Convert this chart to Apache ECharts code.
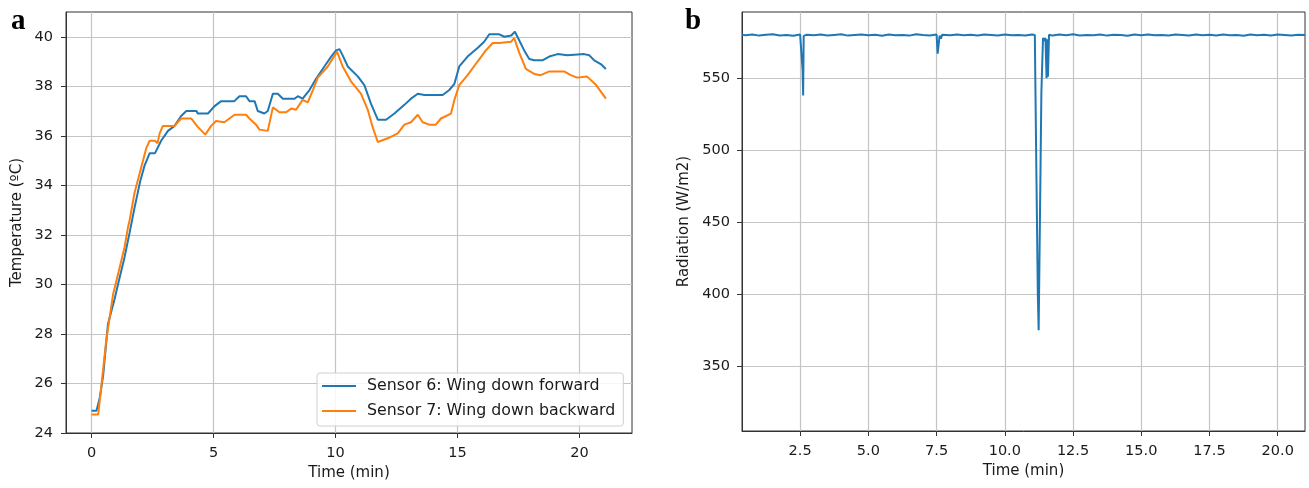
<!DOCTYPE html>
<html><head><meta charset="utf-8">
<script src="https://cdn.jsdelivr.net/npm/echarts@6/dist/echarts.min.js"></script>
<style>html,body{margin:0;padding:0;background:#fff}#c{width:1309px;height:488px}</style>
</head><body><div id="c"></div>
<script>
// ---- Panel a: temperature ----
const tempXTicks = [0, 5, 10, 15, 20];
const tempYTicks = [24, 26, 28, 30, 32, 34, 36, 38, 40];
const s6Name = 'Sensor 6: Wing down forward';
const s7Name = 'Sensor 7: Wing down backward';
const s6Time = [0,0.2,0.33,0.47,0.67,0.94,1.08,1.35,1.56,1.76,2.0,2.17,2.38,2.6,2.85,3.13,3.4,3.67,3.88,4.3,4.35,4.77,5.04,5.31,5.85,6.06,6.33,6.47,6.68,6.81,7.08,7.22,7.43,7.63,7.84,8.32,8.45,8.65,8.93,9.2,9.54,9.82,10.02,10.16,10.29,10.5,10.91,11.18,11.45,11.73,12.07,12.41,12.82,13.09,13.37,13.64,14.39,14.66,14.87,15.07,15.41,15.82,16.09,16.3,16.71,16.92,17.2,17.35,17.53,17.73,17.94,18.14,18.48,18.76,19.1,19.5,20.19,20.4,20.6,20.87,21.08];
const s6Temp = [24.9,24.9,25.4,26.3,28.4,29.4,30.0,31.1,32.1,33.1,34.2,34.8,35.3,35.3,35.8,36.2,36.4,36.8,37.0,37.0,36.9,36.9,37.2,37.4,37.4,37.6,37.6,37.4,37.4,37.0,36.9,37.0,37.7,37.7,37.5,37.5,37.6,37.5,37.85,38.3,38.8,39.2,39.45,39.5,39.25,38.8,38.4,38.05,37.3,36.65,36.65,36.9,37.25,37.5,37.7,37.65,37.65,37.85,38.1,38.8,39.2,39.55,39.8,40.1,40.1,40.0,40.05,40.2,39.85,39.45,39.1,39.05,39.05,39.2,39.3,39.25,39.3,39.25,39.05,38.9,38.7];
const s7Time = [0,0.27,0.4,0.6,0.88,1.08,1.35,1.49,1.56,1.76,2.04,2.24,2.38,2.6,2.7,2.79,2.92,3.4,3.67,4.08,4.36,4.66,4.9,5.1,5.44,5.86,6.33,6.47,6.74,6.88,7.22,7.43,7.7,7.97,8.18,8.38,8.65,8.86,9.07,9.27,9.68,10.06,10.29,10.63,11.04,11.32,11.52,11.73,12.14,12.55,12.82,13.09,13.37,13.57,13.84,14.11,14.32,14.73,14.87,15.07,15.41,15.82,16.16,16.44,16.71,17.2,17.32,17.53,17.8,18.14,18.41,18.76,19.37,19.64,19.9,20.3,20.68,21.08];
const s7Temp = [24.75,24.75,25.9,27.75,29.6,30.4,31.5,32.3,32.6,33.7,34.75,35.5,35.8,35.8,35.7,36.1,36.4,36.4,36.7,36.7,36.35,36.05,36.4,36.6,36.55,36.85,36.85,36.7,36.45,36.25,36.2,37.15,36.95,36.95,37.1,37.05,37.45,37.35,37.85,38.35,38.8,39.4,38.8,38.2,37.7,37.05,36.35,35.75,35.9,36.1,36.45,36.55,36.85,36.55,36.45,36.45,36.7,36.9,37.45,38.05,38.45,39.0,39.45,39.75,39.75,39.8,39.95,39.35,38.7,38.5,38.45,38.6,38.6,38.45,38.35,38.4,38.05,37.5];

// ---- Panel b: radiation ----
const radXTicks = [2.5, 5, 7.5, 10, 12.5, 15, 17.5, 20];
const radYTicks = [350, 400, 450, 500, 550];
const radTime = [0.37,0.5,0.75,1.0,1.25,1.5,1.75,2.0,2.25,2.5,2.56,2.59,2.61,2.63,2.75,3.0,3.25,3.5,3.75,4.0,4.25,4.5,4.75,5.0,5.25,5.5,5.75,6.0,6.25,6.5,6.75,7.0,7.25,7.5,7.54,7.58,7.61,7.66,7.7,8.0,8.25,8.5,8.75,9.0,9.25,9.5,9.75,10.0,10.25,10.5,10.75,11.0,11.1,11.16,11.21,11.24,11.28,11.34,11.4,11.45,11.49,11.53,11.56,11.58,11.62,11.75,12.0,12.25,12.5,12.75,13.0,13.25,13.5,13.75,14.0,14.25,14.5,14.75,15.0,15.25,15.5,15.75,16.0,16.25,16.5,16.75,17.0,17.25,17.5,17.75,18.0,18.25,18.5,18.75,19.0,19.25,19.5,19.75,20.0,20.25,20.5,20.75,21.0];
const radValue = [580.3,579.8,580.4,579.6,580.2,580.5,579.7,580.1,579.5,580.3,580.6,556,538,579.4,580.2,579.9,580.4,579.7,580.1,580.5,579.6,580.0,580.3,579.8,580.2,579.5,580.4,579.9,580.1,579.6,580.5,580.0,579.7,580.3,567,568,579.5,577.5,580.2,579.8,580.4,579.9,580.2,579.6,580.3,580.0,579.7,580.4,579.8,580.1,579.6,580.3,580.0,480,400,375,440,540,578,576,578,550,577,551,580.2,579.6,580.3,579.9,580.5,579.7,580.1,579.8,580.4,579.6,580.2,580.0,579.5,580.3,579.9,580.4,579.8,580.1,579.6,580.3,580.0,579.7,580.4,579.9,580.2,579.6,580.3,579.8,580.1,579.5,580.4,579.9,580.2,579.7,580.3,580.0,579.6,580.2,580.0];

const zip = (a, b) => a.map((v, i) => [v, b[i]]);
const FONT = 'DejaVu Sans';
const TXT = '#1a1a1a';
const GRIDC = '#c4c4c4';

function axis(gridIndex, min, max, ticks, name, gap, rotate, margin, fmt) {
  return {
    type: 'value', gridIndex, min, max, name,
    nameLocation: 'middle', nameGap: gap, nameRotate: rotate,
    nameTextStyle: { fontFamily: FONT, fontSize: 15, color: TXT },
    axisLine: { show: true, onZero: false, lineStyle: { color: '#333', width: 1 } },
    axisTick: { show: true, length: 5, lineStyle: { color: '#333' }, customValues: ticks },
    axisLabel: { fontFamily: FONT, fontSize: 14.5, color: TXT, margin: margin, customValues: ticks, formatter: fmt || (v => String(v)) },
    splitLine: { show: true, lineStyle: { color: GRIDC, width: 1.2 } }
  };
}

const chart = echarts.init(document.getElementById('c'), null, { renderer: 'canvas' });
chart.setOption({
  animation: false,
  backgroundColor: '#fff',
  grid: [
    { left: 66, top: 12, width: 566, height: 421, show: true, borderColor: '#333', borderWidth: 1 },
    { left: 742, top: 12, width: 563, height: 419, show: true, borderColor: '#333', borderWidth: 1 }
  ],
  xAxis: [
    axis(0, -1.05, 22.15, tempXTicks, 'Time (min)', 33, 0, 13),
    axis(1, 0.37, 21.0, radXTicks, 'Time (min)', 32, 0, 13, v => v.toFixed(1))
  ],
  yAxis: [
    axis(0, 24, 41.0, tempYTicks, 'Temperature (ºC)', 41, 90, 13),
    axis(1, 305, 596, radYTicks, 'Radiation (W/m2)', 50, 90, 12)
  ],
  legend: {
    left: 317, top: 373, orient: 'vertical',
    data: [s6Name, s7Name],
    icon: 'rect', itemWidth: 34, itemHeight: 2, itemGap: 9,
    padding: [5, 8, 7, 5],
    backgroundColor: 'rgba(255,255,255,0.85)', borderColor: '#d0d0d0', borderWidth: 1, borderRadius: 3,
    textStyle: { fontFamily: FONT, fontSize: 15.8, color: TXT, padding: [0, 0, 0, 6] }
  },
  graphic: [
    { type: 'text', left: 11, top: 7, style: { text: 'a', font: 'bold 29px "Liberation Serif"', fill: '#000' } },
    { type: 'text', left: 685, top: 7, style: { text: 'b', font: 'bold 29px "Liberation Serif"', fill: '#000' } }
  ],
  series: [
    { name: s6Name, type: 'line', xAxisIndex: 0, yAxisIndex: 0, data: zip(s6Time, s6Temp), showSymbol: false, symbol: 'none', lineStyle: { color: '#1f77b4', width: 2 }, itemStyle: { color: '#1f77b4' } },
    { name: s7Name, type: 'line', xAxisIndex: 0, yAxisIndex: 0, data: zip(s7Time, s7Temp), showSymbol: false, symbol: 'none', lineStyle: { color: '#ff7f0e', width: 2 }, itemStyle: { color: '#ff7f0e' } },
    { name: 'Radiation', type: 'line', xAxisIndex: 1, yAxisIndex: 1, data: zip(radTime, radValue), showSymbol: false, symbol: 'none', lineStyle: { color: '#1f77b4', width: 2 }, itemStyle: { color: '#1f77b4' } }
  ]
});
</script>
</body></html>
